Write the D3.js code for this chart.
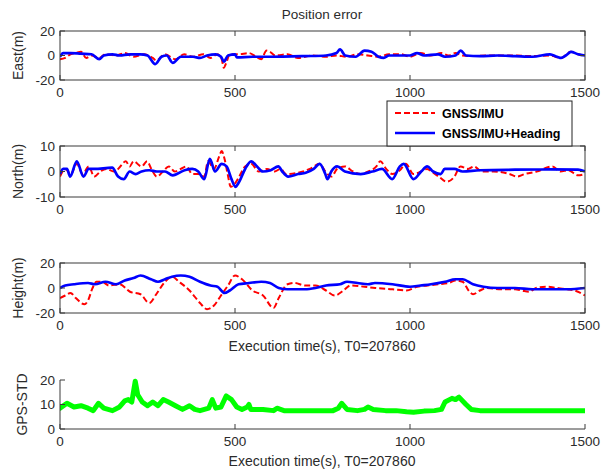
<!DOCTYPE html>
<html><head><meta charset="utf-8">
<script src="https://cdn.jsdelivr.net/npm/d3@7"></script>
<style>
html,body{margin:0;padding:0;background:#fff;}
svg{display:block;font-family:"Liberation Sans",Arial,sans-serif;}
</style></head>
<body><svg id="c" width="614" height="471"></svg>
<script>
// ---------- data (time s, value) ----------
const xTicks = [0, 500, 1000, 1500];
const panelTitles = ["East(m)", "North(m)", "Height(m)", "GPS-STD"];
const seriesNames = ["GNSS/IMU", "GNSS/IMU+Heading"];
const mainTitle = "Position error";
const xLabel = "Execution time(s), T0=207860";

const eastIMU = [[0,-3],[15,-2],[30,1],[45,2],[60,3],[75,-2],[90,0],[112,-2],[130,1],[160,0],[185,2],[210,-1],[240,1],[265,-2],[275,-4],[300,1],[330,-3],[355,1],[380,-1],[410,1],[430,-2],[450,1],[462,-3],[468,-10],[475,-6],[485,1],[510,1],[540,2],[560,-1],[575,-3],[590,4],[600,3],[615,0],[650,1],[680,-2],[720,0],[760,-1],[790,0],[820,-1],[850,1],[880,0],[910,-1],[940,1],[975,1],[1000,-1],[1030,2],[1060,0],[1090,2],[1110,0],[1130,2],[1150,0],[1180,-0.5],[1220,0],[1300,0],[1350,-0.5],[1400,0],[1432,-2],[1460,3],[1480,1],[1500,0]];
const eastHead = [[0,-1],[9,2],[30,2],[60,1.5],[90,1],[112,-3],[125,0],[150,1],[170,0],[200,1],[230,1],[250,0],[272,-7],[290,-1],[305,0],[322,-6],[345,-1],[380,-1],[400,-2],[420,0],[445,1],[460,-1],[468,-5],[480,0],[500,1],[505,-1.5],[550,-1],[600,-1],[700,-0.5],[760,0],[790,2],[800,5],[815,0],[845,-1],[870,4],[890,3],[910,-1],[925,-2],[940,0],[1000,0],[1020,2],[1040,0],[1080,1],[1100,-1],[1130,0],[1145,4],[1160,0],[1200,-0.5],[1250,0],[1300,-0.5],[1350,-1],[1400,1],[1420,-1],[1432,-2],[1445,0],[1460,3],[1480,1],[1500,0]];

const northIMU = [[0,-2],[15,1],[31,-1],[48,3],[65,-1],[82,2],[98,-2],[115,0],[132,1],[154,0],[166,1],[188,4],[199,2],[210,4],[233,2],[249,4],[261,1],[277,-2],[294,0],[311,2],[328,0],[345,1],[361,2],[378,-1],[395,-1],[412,-2],[423,4],[440,1],[455,6],[462,8],[470,5],[479,-1],[488,-6],[498,-5],[512,-2],[529,2],[546,3],[568,0],[591,1],[613,0],[630,1],[646,-1],[680,-0.5],[714,1],[742,3],[758,0],[775,-2],[792,1],[814,2],[837,0],[859,-1],[881,0],[904,2],[915,4],[932,1],[949,-1],[971,0.5],[988,3],[1010,-1],[1032,0],[1049,1],[1066,-0.5],[1082,-2],[1105,-4],[1127,-2],[1144,2],[1166,1],[1183,2],[1205,0],[1239,0],[1284,-1],[1306,-2],[1328,-1],[1362,0],[1407,2],[1430,0],[1452,0.5],[1480,-1.5],[1500,-1]];
const northHead = [[0,-1],[9,1],[20,1],[29,-2],[48,4],[67,-2],[82,1],[98,1],[149,1.5],[166,-2],[182,-3],[199,0],[216,-1],[233,0],[255,0.5],[277,0],[300,0],[322,-1.5],[356,0.5],[378,1],[395,0],[412,-3],[428,5],[443,0],[462,3],[476,2],[490,-3],[501,-6],[512,-4],[529,1],[546,4],[563,2],[579,0],[602,0.5],[624,2],[635,0],[652,-2],[680,-1],[702,-0.5],[725,1],[742,3],[758,-1],[764,-3],[775,0],[792,2],[814,0],[859,-1],[893,0],[920,1],[949,-3],[971,2],[982,3],[1010,-3],[1032,0],[1049,2],[1066,0],[1088,-1],[1099,1],[1127,1],[1150,0],[1200,0.5],[1300,0.7],[1400,0.8],[1480,0.7],[1500,0]];

const heightIMU = [[0,-8],[15,-6],[30,-4],[45,-8],[70,-13],[80,-10],[93,0],[104,5],[120,5],[140,2],[170,3],[200,-3],[230,-5],[255,-12],[275,-5],[300,5],[320,9],[340,5],[370,-2],[400,-12],[420,-17],[440,-14],[460,-6],[480,2],[500,10],[520,7],[550,-2],[580,-6],[610,-16],[625,-8],[650,3],[670,4],[700,2],[730,2],[760,-2],[785,-6],[810,-2],[830,2],[870,1],[900,0],[950,-1],[990,-2],[1020,1],[1050,2],[1080,3],[1110,4],[1130,6],[1150,5],[1170,-3],[1180,-5],[1200,-2],[1220,0],[1260,-1],[1300,-1],[1320,-2],[1340,-3],[1360,0],[1390,1],[1420,0],[1450,-1],[1480,-3],[1500,-6]];
const heightHead = [[0,0],[15,2],[40,3],[80,4],[100,3],[130,5],[160,3],[185,6],[210,8],[230,10],[260,7],[280,5],[300,7],[320,9],[345,10],[370,9],[400,5],[430,2],[450,1],[470,-4],[485,-2],[510,3],[540,4],[575,5],[600,4],[625,0],[650,-1],[700,-1],[730,0],[760,2],[800,3],[820,5],[850,4],[880,3],[900,4],[950,3],[1000,1],[1030,2],[1060,3],[1100,5],[1130,7],[1150,7],[1180,3],[1210,1],[1250,0],[1300,0],[1350,-1],[1400,-1],[1450,-1],[1500,0]];

const gpsStd = [[0,8.5],[20,10.5],[40,9],[60,9.5],[80,8.5],[95,7.5],[110,10.5],[125,8.5],[150,7.5],[170,9],[185,11.5],[195,12],[205,11],[215,19.5],[222,14],[235,11],[250,9.5],[265,11],[280,9.5],[295,12],[310,11],[330,9.5],[350,8],[370,9.5],[385,8],[400,7.5],[425,8.5],[435,12],[445,8.5],[460,9],[475,13.5],[490,12],[505,9],[520,8],[535,9],[540,10],[545,8],[580,8],[610,7.5],[620,8.5],[640,7.5],[700,7.5],[780,7.5],[795,8.5],[805,10.5],[820,8],[850,7.5],[870,8],[880,9],[895,8],[930,7.5],[960,7.5],[990,7],[1010,6.8],[1040,7.3],[1070,7.5],[1090,8],[1100,11],[1120,12.5],[1130,12],[1140,13],[1160,10],[1175,8],[1200,7.5],[1500,7.5]];

// ---------- layout ----------
const svg = d3.select("#c");
const X0 = 60, X1 = 585;
const x = d3.scaleLinear().domain([0,1500]).range([X0, X1]);
const panels = [
  {top:31, bot:80, dom:[-20,20], ticks:[-20,0,20], label:panelTitles[0], box:true, series:[eastIMU, eastHead], lx:18},
  {top:146, bot:197, dom:[-10,10], ticks:[-10,0,10], label:panelTitles[1], box:true, series:[northIMU, northHead], lx:18},
  {top:263, bot:313, dom:[-20,20], ticks:[-20,0,20], label:panelTitles[2], box:true, series:[heightIMU, heightHead], lx:18, xlab:true},
  {top:380, bot:429, dom:[0,20], ticks:[0,10,20], label:panelTitles[3], box:false, series:[gpsStd], lx:22, xlab:true, gps:true}
];
const axisCol = "#3a3a3a", textCol = "#2b2b2b";
const TL = 5;

svg.append("text").attr("x", 322).attr("y", 19).attr("text-anchor","middle")
  .attr("font-size", 13.5).attr("fill", textCol).text(mainTitle);

panels.forEach((p, i) => {
  const y = d3.scaleLinear().domain(p.dom).range([p.bot, p.top]);
  const g = svg.append("g");
  const clipId = "clip" + i;
  svg.append("clipPath").attr("id", clipId).append("rect")
    .attr("x", X0).attr("y", p.top - 3).attr("width", X1 - X0).attr("height", p.bot - p.top + 6);

  const line = d3.line().x(d => x(d[0])).y(d => y(d[1])).curve(d3.curveMonotoneX);
  const lg = g.append("g").attr("clip-path", `url(#${clipId})`);
  if (p.gps) {
    lg.append("path").datum(p.series[0]).attr("d", line.curve(d3.curveLinear)).attr("fill","none")
      .attr("stroke","#00ff00").attr("stroke-width",5).attr("stroke-linejoin","round").attr("stroke-linecap","round");
  } else {
    lg.append("path").datum(p.series[0]).attr("d", line).attr("fill","none")
      .attr("stroke","#ff0000").attr("stroke-width",2).attr("stroke-dasharray","6,3");
    lg.append("path").datum(p.series[1]).attr("d", line).attr("fill","none")
      .attr("stroke","#0000ff").attr("stroke-width",2.7).attr("stroke-linejoin","round");
  }

  const ax = g.append("g").attr("stroke", axisCol).attr("stroke-width", 1).attr("fill","none");
  if (p.box) {
    ax.append("rect").attr("x", X0).attr("y", p.top).attr("width", X1 - X0).attr("height", p.bot - p.top);
  } else {
    ax.append("line").attr("x1", X0).attr("x2", X0).attr("y1", p.top).attr("y2", p.bot);
    ax.append("line").attr("x1", X0).attr("x2", X1).attr("y1", p.bot).attr("y2", p.bot);
  }
  xTicks.forEach(t => {
    ax.append("line").attr("x1", x(t)).attr("x2", x(t)).attr("y1", p.bot).attr("y2", p.bot - TL);
    if (p.box) ax.append("line").attr("x1", x(t)).attr("x2", x(t)).attr("y1", p.top).attr("y2", p.top + TL);
    g.append("text").attr("x", x(t)).attr("y", p.bot + 17).attr("text-anchor","middle")
      .attr("font-size", 13.5).attr("fill", textCol).text(t);
  });
  p.ticks.forEach(t => {
    ax.append("line").attr("x1", X0).attr("x2", X0 + TL).attr("y1", y(t)).attr("y2", y(t));
    if (p.box) ax.append("line").attr("x1", X1).attr("x2", X1 - TL).attr("y1", y(t)).attr("y2", y(t));
    g.append("text").attr("x", X0 - 5).attr("y", y(t)).attr("dy","0.36em").attr("text-anchor","end")
      .attr("font-size", 13.5).attr("fill", textCol).text(t);
  });
  g.append("text").attr("transform", `translate(${p.lx},${(p.top+p.bot)/2}) rotate(-90)`)
    .attr("text-anchor","middle").attr("dominant-baseline","central")
    .attr("font-size", 14).attr("fill", textCol).text(p.label);
  if (p.xlab) {
    g.append("text").attr("x", 322).attr("y", p.bot + (p.gps ? 37 : 38)).attr("text-anchor","middle")
      .attr("font-size", 14).attr("fill", textCol).text(xLabel);
  }
});

// legend
const leg = svg.append("g");
leg.append("rect").attr("x", 387).attr("y", 101).attr("width", 185).attr("height", 45)
  .attr("fill","#fff").attr("stroke", "#222").attr("stroke-width", 1);
const legY = [113, 133];
const legStyles = [{c:"#ff0000", d:"6,3", w:2}, {c:"#0000ff", d:null, w:2.5}];
seriesNames.forEach((n, i) => {
  leg.append("line").attr("x1", 395).attr("x2", 435).attr("y1", legY[i]).attr("y2", legY[i])
    .attr("stroke", legStyles[i].c).attr("stroke-width", legStyles[i].w)
    .attr("stroke-dasharray", legStyles[i].d);
  leg.append("text").attr("x", 442).attr("y", legY[i]).attr("dy","0.36em")
    .attr("font-size", 12.5).attr("font-weight","bold").attr("fill","#000").text(n);
});
</script></body></html>
